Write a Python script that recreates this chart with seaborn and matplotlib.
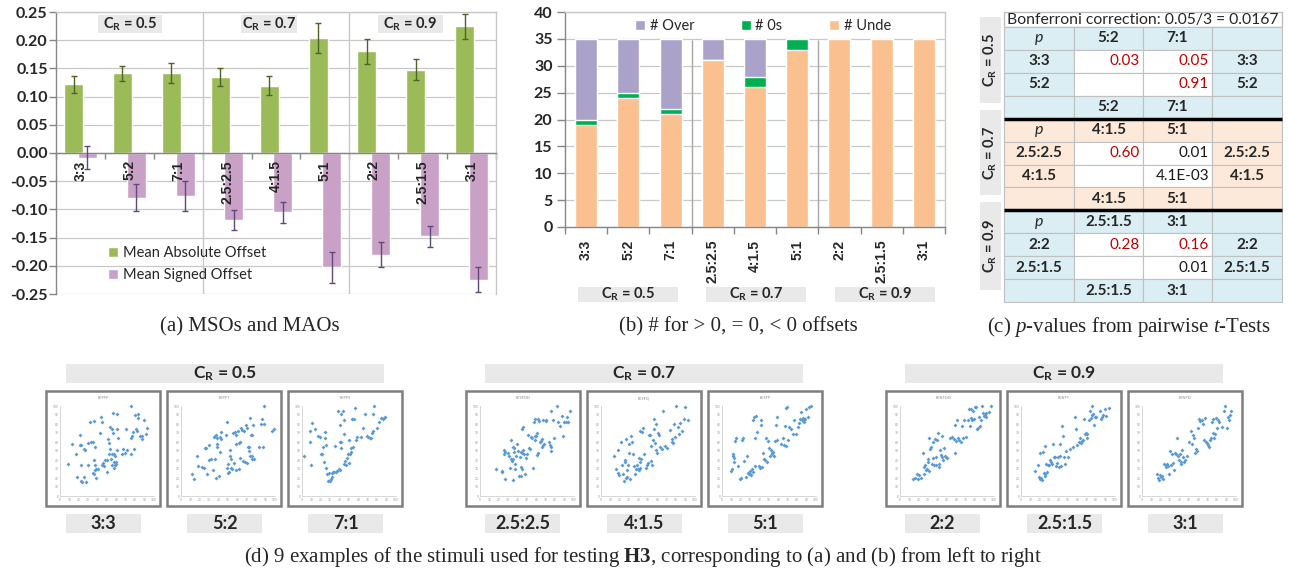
import numpy as np
import pandas as pd
import matplotlib
matplotlib.use('Agg')
import matplotlib.pyplot as plt
import seaborn as sns
from matplotlib.patches import Rectangle, Patch
from matplotlib.ticker import FuncFormatter

# ---------------- data ----------------
categories = ['3:3', '5:2', '7:1', '2.5:2.5', '4:1.5', '5:1', '2:2', '2.5:1.5', '3:1']
cr_levels = ['0.5', '0.7', '0.9']

mao = [0.122, 0.141, 0.142, 0.135, 0.119, 0.204, 0.180, 0.148, 0.225]
mao_err = [0.015, 0.014, 0.018, 0.016, 0.017, 0.027, 0.023, 0.018, 0.022]
mso = [-0.008, -0.079, -0.076, -0.119, -0.105, -0.203, -0.180, -0.148, -0.225]
mso_err = [0.021, 0.024, 0.026, 0.018, 0.019, 0.027, 0.023, 0.018, 0.022]

n_under = [19, 24, 21, 31, 26, 33, 35, 35, 35]
n_zero = [1, 1, 1, 0, 2, 2, 0, 0, 0]
n_over = [15, 10, 13, 4, 7, 0, 0, 0, 0]

bonferroni_note = 'Bonferroni correction: 0.05/3 = 0.0167'
alpha = 0.0167
table_cols = [['5:2', '7:1'], ['4:1.5', '5:1'], ['2.5:1.5', '3:1']]
table_rows = [['3:3', '5:2'], ['2.5:2.5', '4:1.5'], ['2:2', '2.5:1.5']]
p_values = [[['0.03', '0.05'], ['', '0.91']],
            [['0.60', '0.01'], ['', '4.1E-03']],
            [['0.28', '0.16'], ['', '0.01']]]

stim_names = ['EEPFP', 'EEPFT', 'EEPFS', 'EESFDD', 'EESFQ', 'EESFP', 'EENFDD', 'EENFT', 'EENFD']
stim_EEPFP = [(8,36),(13,58),(17,47),(18,21),(21,68),(21,57),(22,57),(22,35),(22,17),(23,16),(25,21),(25,52),
              (27,51),(28,16),(30,59),(30,34),(32,82),(33,60),(35,60),(35,26),(36,25),(36,83),(36,40),(37,55),
              (37,29),(37,34),(38,20),(38,30),(40,30),(43,70),(44,88),(45,35),(45,82),(46,37),(47,33),(48,40),
              (50,40),(50,27),(51,63),(52,59),(52,47),(53,77),(53,52),(54,41),(55,75),(55,47),(55,35),(56,92),
              (56,70),(57,47),(57,38),(57,31),(58,45),(59,34),(60,36),(60,38),(61,91),(61,75),(61,51),(62,64),
              (66,47),(67,52),(69,48),(70,74),(71,51),(75,47),(76,100),(76,65),(77,67),(78,71),(79,52),(80,90),
              (81,74),(82,72),(83,91),(83,87),(85,67),(87,63),(87,67),(89,84),(91,69),(93,76)]
stim_EEPFT = [(12,25),(14,19),(17,45),(18,33),(22,32),(24,31),(25,53),(27,53),(28,24),(30,57),(30,40),(32,41),
              (34,29),(35,66),(36,67),(36,41),(37,68),(37,20),(38,58),(38,55),(38,65),(40,22),(41,49),(42,66),
              (43,63),(43,71),(48,68),(49,82),(49,31),(50,26),(50,36),(51,27),(52,45),(52,51),(53,41),(53,31),
              (54,30),(55,70),(56,37),(57,71),(58,29),(59,58),(59,68),(61,72),(62,59),(62,30),(63,42),(63,60),
              (64,76),(65,73),(66,39),(67,72),(68,38),(69,79),(70,37),(70,76),(71,55),(72,50),(72,55),(73,45),
              (73,87),(74,68),(75,68),(75,45),(76,41),(77,79),(78,41),(83,54),(85,80),(86,86),(87,55),(88,100),
              (88,80),(97,72),(99,75)]
stim_EEPFS = [(2,44),(8,72),(9,60),(10,35),(11,81),(14,74),(17,67),(19,66),(20,47),(21,47),(22,55),(23,38),
              (24,71),(24,65),(25,57),(26,31),(27,24),(28,17),(29,26),(30,17),(30,18),(31,19),(32,21),(32,26),
              (33,27),(34,27),(35,56),(36,27),(37,28),(38,94),(39,30),(40,29),(40,60),(40,79),(41,91),(41,60),
              (42,53),(44,95),(45,36),(45,69),(45,84),(46,39),(47,35),(48,42),(49,47),(50,37),(50,62),(51,47),
              (52,49),(52,53),(53,86),(54,55),(55,86),(56,98),(57,62),(58,66),(63,66),(65,76),(67,91),(69,67),
              (70,66),(72,64),(73,65),(74,70),(75,72),(76,91),(77,100),(80,76),(82,82),(84,87),(86,86),(87,87),
              (88,88)]
stim_EESFDD = [(17,30),(23,27),(23,28),(25,47),(26,51),(27,19),(27,49),(30,48),(31,44),(32,31),(33,62),(33,41),
               (34,39),(35,18),(35,41),(35,55),(36,49),(36,53),(37,30),(37,36),(38,45),(39,58),(40,50),(41,22),
               (43,43),(44,22),(44,49),(44,32),(45,30),(45,48),(45,75),(46,51),(46,77),(47,47),(48,25),(49,42),
               (50,47),(51,68),(52,53),(53,52),(54,66),(55,65),(56,31),(57,82),(58,62),(58,86),(59,67),(60,67),
               (61,70),(61,46),(62,86),(62,48),(63,83),(64,60),(65,61),(66,63),(66,55),(67,57),(67,84),(68,58),
               (70,84),(70,83),(73,60),(74,57),(75,95),(75,50),(76,54),(78,84),(79,65),(82,100),(83,82),(85,78),
               (87,89),(88,67),(89,82),(92,82),(93,88),(94,82),(96,95)]
stim_EESFQ = [(14,45),(16,30),(18,51),(18,26),(19,23),(21,60),(22,34),(23,25),(24,17),(25,40),(26,38),(27,20),
              (27,63),(28,21),(28,29),(29,35),(30,48),(30,58),(31,19),(32,67),(33,60),(34,47),(35,33),(36,24),
              (37,30),(38,35),(39,30),(40,29),(40,42),(41,31),(42,38),(42,72),(43,41),(44,71),(45,76),(46,47),
              (48,31),(49,34),(50,37),(51,68),(52,68),(53,39),(53,56),(54,35),(55,62),(56,86),(56,75),(57,59),
              (58,51),(59,80),(60,48),(61,70),(62,68),(63,54),(65,52),(66,94),(68,56),(70,53),(73,73),(75,63),
              (76,60),(77,59),(78,80),(79,66),(80,100),(82,77),(83,69),(84,81),(86,72),(88,86),(89,99),(93,84)]
stim_EESFP = [(10,28),(11,30),(12,47),(12,44),(13,42),(13,38),(14,61),(15,65),(17,33),(19,19),(20,20),(21,62),
              (22,64),(23,39),(25,21),(27,45),(28,26),(29,24),(30,25),(30,28),(31,23),(32,30),(33,27),(33,84),
              (34,88),(35,33),(35,64),(36,89),(37,71),(39,33),(40,31),(41,79),(42,84),(43,32),(44,48),(45,41),
              (46,40),(47,65),(48,38),(49,61),(50,53),(51,45),(52,51),(53,47),(53,48),(54,49),(55,44),(56,61),
              (57,79),(58,88),(59,62),(63,58),(65,64),(66,57),(67,78),(68,56),(68,98),(69,99),(70,62),(71,77),
              (73,74),(75,69),(77,85),(79,69),(81,77),(82,81),(83,86),(84,93),(85,84),(86,87),(87,82),(87,85),
              (88,86),(89,97),(91,88),(93,99),(95,100)]
stim_EENFDD = [(14,19),(16,20),(18,24),(19,19),(20,23),(22,20),(24,48),(25,24),(26,32),(27,35),(28,29),(29,30),
               (30,41),(30,38),(31,64),(31,28),(32,52),(33,55),(34,36),(35,42),(35,60),(36,34),(37,63),(38,43),
               (38,35),(39,62),(40,70),(41,36),(42,32),(43,51),(44,46),(45,43),(45,67),(46,40),(47,53),(48,45),
               (49,43),(50,42),(53,64),(55,66),(57,63),(58,48),(59,79),(60,61),(61,84),(62,64),(63,62),(65,60),
               (66,78),(67,65),(68,85),(70,66),(72,84),(73,97),(74,78),(75,87),(76,97),(77,84),(78,94),(79,86),
               (80,99),(81,99),(82,74),(83,76),(84,88),(85,78),(86,85),(87,100),(88,92),(89,89),(90,90),(91,92),
               (92,88),(95,93),(97,100)]
stim_EENFT = [(15,28),(18,35),(19,21),(20,48),(20,19),(21,20),(22,18),(23,49),(24,26),(25,22),(25,56),(26,24),
              (27,36),(28,27),(29,34),(30,34),(31,40),(32,38),(33,36),(34,58),(35,43),(36,43),(37,33),(38,37),
              (39,43),(40,32),(41,58),(42,44),(43,33),(44,78),(45,67),(46,43),(47,36),(48,50),(50,43),(52,52),
              (55,55),(57,88),(58,74),(60,57),(62,60),(63,65),(64,59),(65,61),(66,62),(67,86),(68,69),(69,70),
              (70,65),(70,69),(72,85),(73,94),(74,87),(75,100),(76,90),(77,91),(78,79),(79,88),(80,88),(84,95),
              (85,86),(86,88),(87,90),(89,97),(90,89),(94,98)]
stim_EENFD = [(16,25),(17,20),(18,18),(19,23),(20,21),(21,22),(22,19),(23,36),(25,35),(26,32),(27,36),(28,33),
              (29,24),(30,50),(31,35),(32,47),(33,37),(34,29),(35,48),(36,47),(37,64),(38,44),(39,40),(40,47),
              (41,38),(42,36),(43,51),(44,43),(45,38),(46,40),(48,45),(50,60),(52,72),(53,58),(54,68),(55,64),
              (56,48),(57,52),(58,50),(60,76),(61,86),(62,83),(64,84),(65,80),(66,62),(67,87),(68,60),(69,59),
              (70,57),(71,55),(72,62),(73,65),(74,82),(75,70),(76,86),(77,64),(78,69),(79,87),(80,76),(81,85),
              (82,82),(85,77),(87,95),(88,100),(90,76),(92,88),(93,84),(94,90),(95,94)]
stimuli = [stim_EEPFP, stim_EEPFT, stim_EEPFS, stim_EESFDD, stim_EESFQ, stim_EESFP,
           stim_EENFDD, stim_EENFT, stim_EENFD]

# ---------------- style ----------------
sns.set_theme(style='white')
plt.rcParams['font.family'] = ['Lato', 'DejaVu Sans']
plt.rcParams['mathtext.fontset'] = 'custom'
plt.rcParams['mathtext.rm'] = 'Liberation Serif'
plt.rcParams['mathtext.it'] = 'Liberation Serif:italic'
plt.rcParams['mathtext.bf'] = 'Liberation Serif:bold'
plt.rcParams['mathtext.sf'] = 'Lato:bold'

NARROW = ['Liberation Sans', 'DejaVu Sans']
SERIF = ['Liberation Serif', 'DejaVu Serif']
GREEN, PINK = '#9BBB59', '#C9A1C7'
OVER_C, ZERO_C, UNDER_C = '#ABA2C9', '#00B050', '#FAC090'
GRID = '#C8C8C8'
DARK = '#868686'
BOXGRAY = '#E9E9E9'
BLUE_CELL, PEACH_CELL = '#DAEEF3', '#FDE9D9'
DOT = '#5B9BD5'

W, H = 1289, 575
fig = plt.figure(figsize=(W / 100, H / 100), dpi=100)


def ax_px(l, t, r, b, **kw):
    return fig.add_axes([l / W, 1 - b / H, (r - l) / W, (b - t) / H], **kw)


def cr(v):
    return r'$\mathsf{C}_{\mathsf{R}}$' + f' = {v}'


fmt2 = FuncFormatter(lambda v, p: f'{round(v, 2) + 0:.2f}')

# ---------------- (a) MSO / MAO ----------------
axa = ax_px(56, 12, 496, 294)
df_a = pd.DataFrame({'ratio': categories * 2,
                     'series': ['MAO'] * len(categories) + ['MSO'] * len(categories),
                     'value': mao + mso})
sns.barplot(data=df_a, x='ratio', y='value', hue='series', order=categories,
            hue_order=['MAO', 'MSO'], palette=[GREEN, PINK], dodge=True, width=0.56,
            saturation=1, errorbar=None, legend=False, ax=axa, zorder=2)
err_colors = ['#4F6228', '#5F497A']
errs = [mao_err, mso_err]
vals = [mao, mso]
bar_containers = list(axa.containers)
for k, cont in enumerate(bar_containers):
    centers = []
    for bar in cont.patches:
        cx = bar.get_x() + bar.get_width() / 2
        bar.set_x(cx - 0.195)
        bar.set_width(0.39)
        centers.append(cx)
    axa.errorbar(centers, vals[k], yerr=errs[k], fmt='none', ecolor=err_colors[k],
                 elinewidth=1, capsize=2.4, capthick=1, zorder=4)
axa.set_xlim(-0.5, len(categories) - 0.5)
axa.set_ylim(-0.25, 0.25)
axa.set_yticks(np.linspace(-0.25, 0.25, 11))
axa.yaxis.set_major_formatter(fmt2)
axa.set_xlabel('')
axa.set_ylabel('')
axa.spines['bottom'].set_position(('data', 0))
axa.set_xticks([])
axa.set_xticks(np.arange(-0.5, len(categories), 1), minor=True)
axa.tick_params(axis='x', which='minor', length=4, width=1, color=DARK, direction='out', bottom=True)
axa.tick_params(axis='y', length=5, width=1, color=DARK, direction='out', left=True, pad=1,
                labelsize=11.5)
for lab in axa.get_yticklabels():
    lab.set_fontweight('bold')
axa.grid(axis='y', color=GRID, lw=0.9)
axa.set_axisbelow(True)
for s in ['left', 'bottom']:
    axa.spines[s].set_color(DARK)
    axa.spines[s].set_linewidth(1)
for s in ['top', 'right']:
    axa.spines[s].set_color(GRID)
    axa.spines[s].set_linewidth(1)
for xv in [2.5, 5.5]:
    axa.axvline(xv, color=GRID, lw=1, zorder=1)
for i, c in enumerate(categories):
    axa.text(i, -0.013, c, rotation=90, ha='center', va='top', fontsize=10,
             fontweight='bold', family=NARROW, zorder=6)
axa.legend(handles=[Patch(facecolor=GREEN), Patch(facecolor=PINK)],
           labels=['Mean Absolute Offset', 'Mean Signed Offset'],
           loc='upper left', bbox_to_anchor=(108 / W, 1 - 246 / H), bbox_transform=fig.transFigure,
           frameon=False, fontsize=10.5, handlelength=0.7, handleheight=0.7, handletextpad=0.35,
           labelspacing=0.55, borderpad=0, borderaxespad=0)

# ---------------- (b) counts ----------------
axb = ax_px(565, 12, 945, 227)
df_b = pd.DataFrame({'ratio': categories, 'under': n_under, 'zero': n_zero, 'over': n_over})
df_b['uz'] = df_b['under'] + df_b['zero']
df_b['total'] = df_b['uz'] + df_b['over']
for col, colr in [('total', OVER_C), ('uz', ZERO_C), ('under', UNDER_C)]:
    sns.barplot(data=df_b, x='ratio', y=col, order=categories, color=colr, width=0.52,
                saturation=1, errorbar=None, ax=axb, zorder=2)
axb.set_xlim(-0.5, len(categories) - 0.5)
axb.set_ylim(0, 40)
axb.set_yticks(np.arange(0, 41, 5))
axb.set_xlabel('')
axb.set_ylabel('')
axb.set_xticks(np.arange(len(categories)))
axb.set_xticklabels(categories, rotation=90, fontsize=10, fontweight='bold', family=NARROW)
axb.set_xticks(np.arange(-0.5, len(categories), 1), minor=True)
axb.tick_params(axis='x', which='major', length=0, pad=9)
axb.tick_params(axis='x', which='minor', length=5, width=1, color=DARK, direction='out', bottom=True)
axb.tick_params(axis='y', length=6, width=1, color=DARK, direction='out', left=True, pad=3,
                labelsize=11.5)
for lab in axb.get_yticklabels():
    lab.set_fontweight('bold')
axb.grid(axis='y', color=GRID, lw=0.9)
axb.set_axisbelow(True)
for s in ['left', 'bottom']:
    axb.spines[s].set_color(DARK)
    axb.spines[s].set_linewidth(1)
for s in ['top', 'right']:
    axb.spines[s].set_color(GRID)
    axb.spines[s].set_linewidth(1)
axb.vlines([2.5, 5.5], 0, 34.8, color='#A6A6A6', lw=1, zorder=1)
axb.legend(handles=[Patch(facecolor=OVER_C), Patch(facecolor=ZERO_C), Patch(facecolor=UNDER_C)],
           labels=['# Over', '# 0s', '# Unde'], ncol=3,
           loc='upper left', bbox_to_anchor=(635 / W, 1 - 19 / H), bbox_transform=fig.transFigure,
           frameon=False, fontsize=10.5, handlelength=0.7, handleheight=0.7, handletextpad=0.3,
           columnspacing=3.2, borderpad=0, borderaxespad=0)

# ---------------- overlay (boxes, table, captions) ----------------
ov = fig.add_axes([0, 0, 1, 1], zorder=10)
ov.set_xlim(0, W)
ov.set_ylim(H, 0)
ov.axis('off')
ov.patch.set_alpha(0)


def label_box(l, t, r, b, text, size, rot=0):
    ov.add_patch(Rectangle((l, t), r - l, b - t, facecolor=BOXGRAY, edgecolor='none'))
    ov.text((l + r) / 2, (t + b) / 2, text, ha='center', va='center', fontsize=size,
            fontweight='bold', rotation=rot)


# (a) group labels
for (l, r), v in zip([(98, 162), (241, 297), (378, 443)], cr_levels):
    label_box(l, 15, r, 33, cr(v), 10.5)
# (b) group labels
for (l, r), v in zip([(578, 678), (706, 806), (835, 935)], cr_levels):
    label_box(l, 287, r, 302, cr(v), 10.5)

# (c) table
TFS = 11
cols_x = [1004, 1074, 1143, 1212, 1282]
t_top, t_bot = 27, 302
rh = (t_bot - t_top) / 12
ov.add_patch(Rectangle((1004, 12), 1282 - 1004, t_top - 12, facecolor='white', edgecolor='#BFBFBF', lw=1))
ov.text(1007, (12 + t_top) / 2 + 0.5, bonferroni_note, ha='left', va='center', fontsize=11.3)
for g in range(3):
    bg = PEACH_CELL if g == 1 else BLUE_CELL
    for r in range(4):
        y0 = t_top + (g * 4 + r) * rh
        yc = y0 + rh / 2
        for c in range(4):
            data_cell = r in (1, 2) and c in (1, 2)
            ov.add_patch(Rectangle((cols_x[c], y0), cols_x[c + 1] - cols_x[c], rh,
                                   facecolor='white' if data_cell else bg, edgecolor='#C0C0C0', lw=0.8))
            xc = (cols_x[c] + cols_x[c + 1]) / 2
            if r == 0 and c == 0:
                ov.text(xc, yc, 'p', ha='center', va='center', fontsize=TFS + 0.5, fontstyle='italic')
            elif r in (0, 3) and c in (1, 2):
                ov.text(xc, yc, table_cols[g][c - 1], ha='center', va='center', fontsize=TFS,
                        fontweight='bold')
            elif r in (1, 2) and c in (0, 3):
                ov.text(xc, yc, table_rows[g][r - 1], ha='center', va='center', fontsize=TFS,
                        fontweight='bold')
            elif data_cell:
                s = p_values[g][r - 1][c - 1]
                if s:
                    colr = '#C00000' if float(s) > alpha else '#1A1A1A'
                    ov.text(cols_x[c + 1] - 3, yc, s, ha='right', va='center', fontsize=TFS, color=colr)
for g in (1, 2):
    yb = t_top + g * 4 * rh
    ov.plot([1004, 1282], [yb, yb], color='black', lw=2.5, solid_capstyle='butt')
for (t, b), v in zip([(17, 103), (110, 195), (202, 290)], cr_levels):
    label_box(980, t, 1001, b, cr(v), 10.5, rot=90)

# (d) scatter thumbnails
for (l, r), v in zip([(66, 384), (485, 803), (905, 1223)], cr_levels):
    label_box(l, 364, r, 383, cr(v), 12.5)
frame_lefts = [46, 167, 288, 466, 587, 708, 886, 1007, 1128]
label_lefts = [66, 187, 308, 485, 607, 728, 905, 1027, 1148]
fy = 391
for i, (name, pts) in enumerate(zip(stim_names, stimuli)):
    fx = frame_lefts[i]
    ov.add_patch(Rectangle((fx, fy), 114, 115, facecolor='none', edgecolor='#7F7F7F', lw=1.8))
    axs = ax_px(fx + 14, fy + 15, fx + 108, fy + 105)
    xs = [p[0] for p in pts]
    ys = [p[1] for p in pts]
    sns.scatterplot(x=xs, y=ys, marker='D', s=4, color=DOT, linewidth=0, ax=axs, clip_on=False)
    axs.set_xlim(0, 100)
    axs.set_ylim(0, 100)
    axs.set_xticks(range(0, 101, 10))
    axs.set_yticks(range(0, 101, 10))
    axs.tick_params(labelsize=2.3, length=0, pad=1.2, colors='#9A9A9A')
    for s in ['top', 'right']:
        axs.spines[s].set_visible(False)
    for s in ['left', 'bottom']:
        axs.spines[s].set_color('#D0D0D0')
        axs.spines[s].set_linewidth(0.6)
    ov.text(fx + 57, fy + 7, name, fontsize=2.8, color='#8A8A8A', ha='center', va='center')
    label_box(label_lefts[i], 514, label_lefts[i] + 75, 533, categories[i], 13)

# captions
CFS = 15
ov.text(250, 327, '(a) MSOs and MAOs', ha='center', va='center', fontsize=CFS, family=SERIF)
ov.text(738, 327, '(b) # for > 0, = 0, < 0 offsets', ha='center', va='center', fontsize=CFS, family=SERIF)
ov.text(1129, 327, r'(c) $p$-values from pairwise $t$-Tests', ha='center', va='center',
        fontsize=CFS, family=SERIF)
ov.text(643, 557, r'(d) 9 examples of the stimuli used for testing $\mathbf{H3}$, corresponding to (a) and (b) from left to right',
        ha='center', va='center', fontsize=CFS, family=SERIF)

fig.savefig('out.png', dpi=100)
